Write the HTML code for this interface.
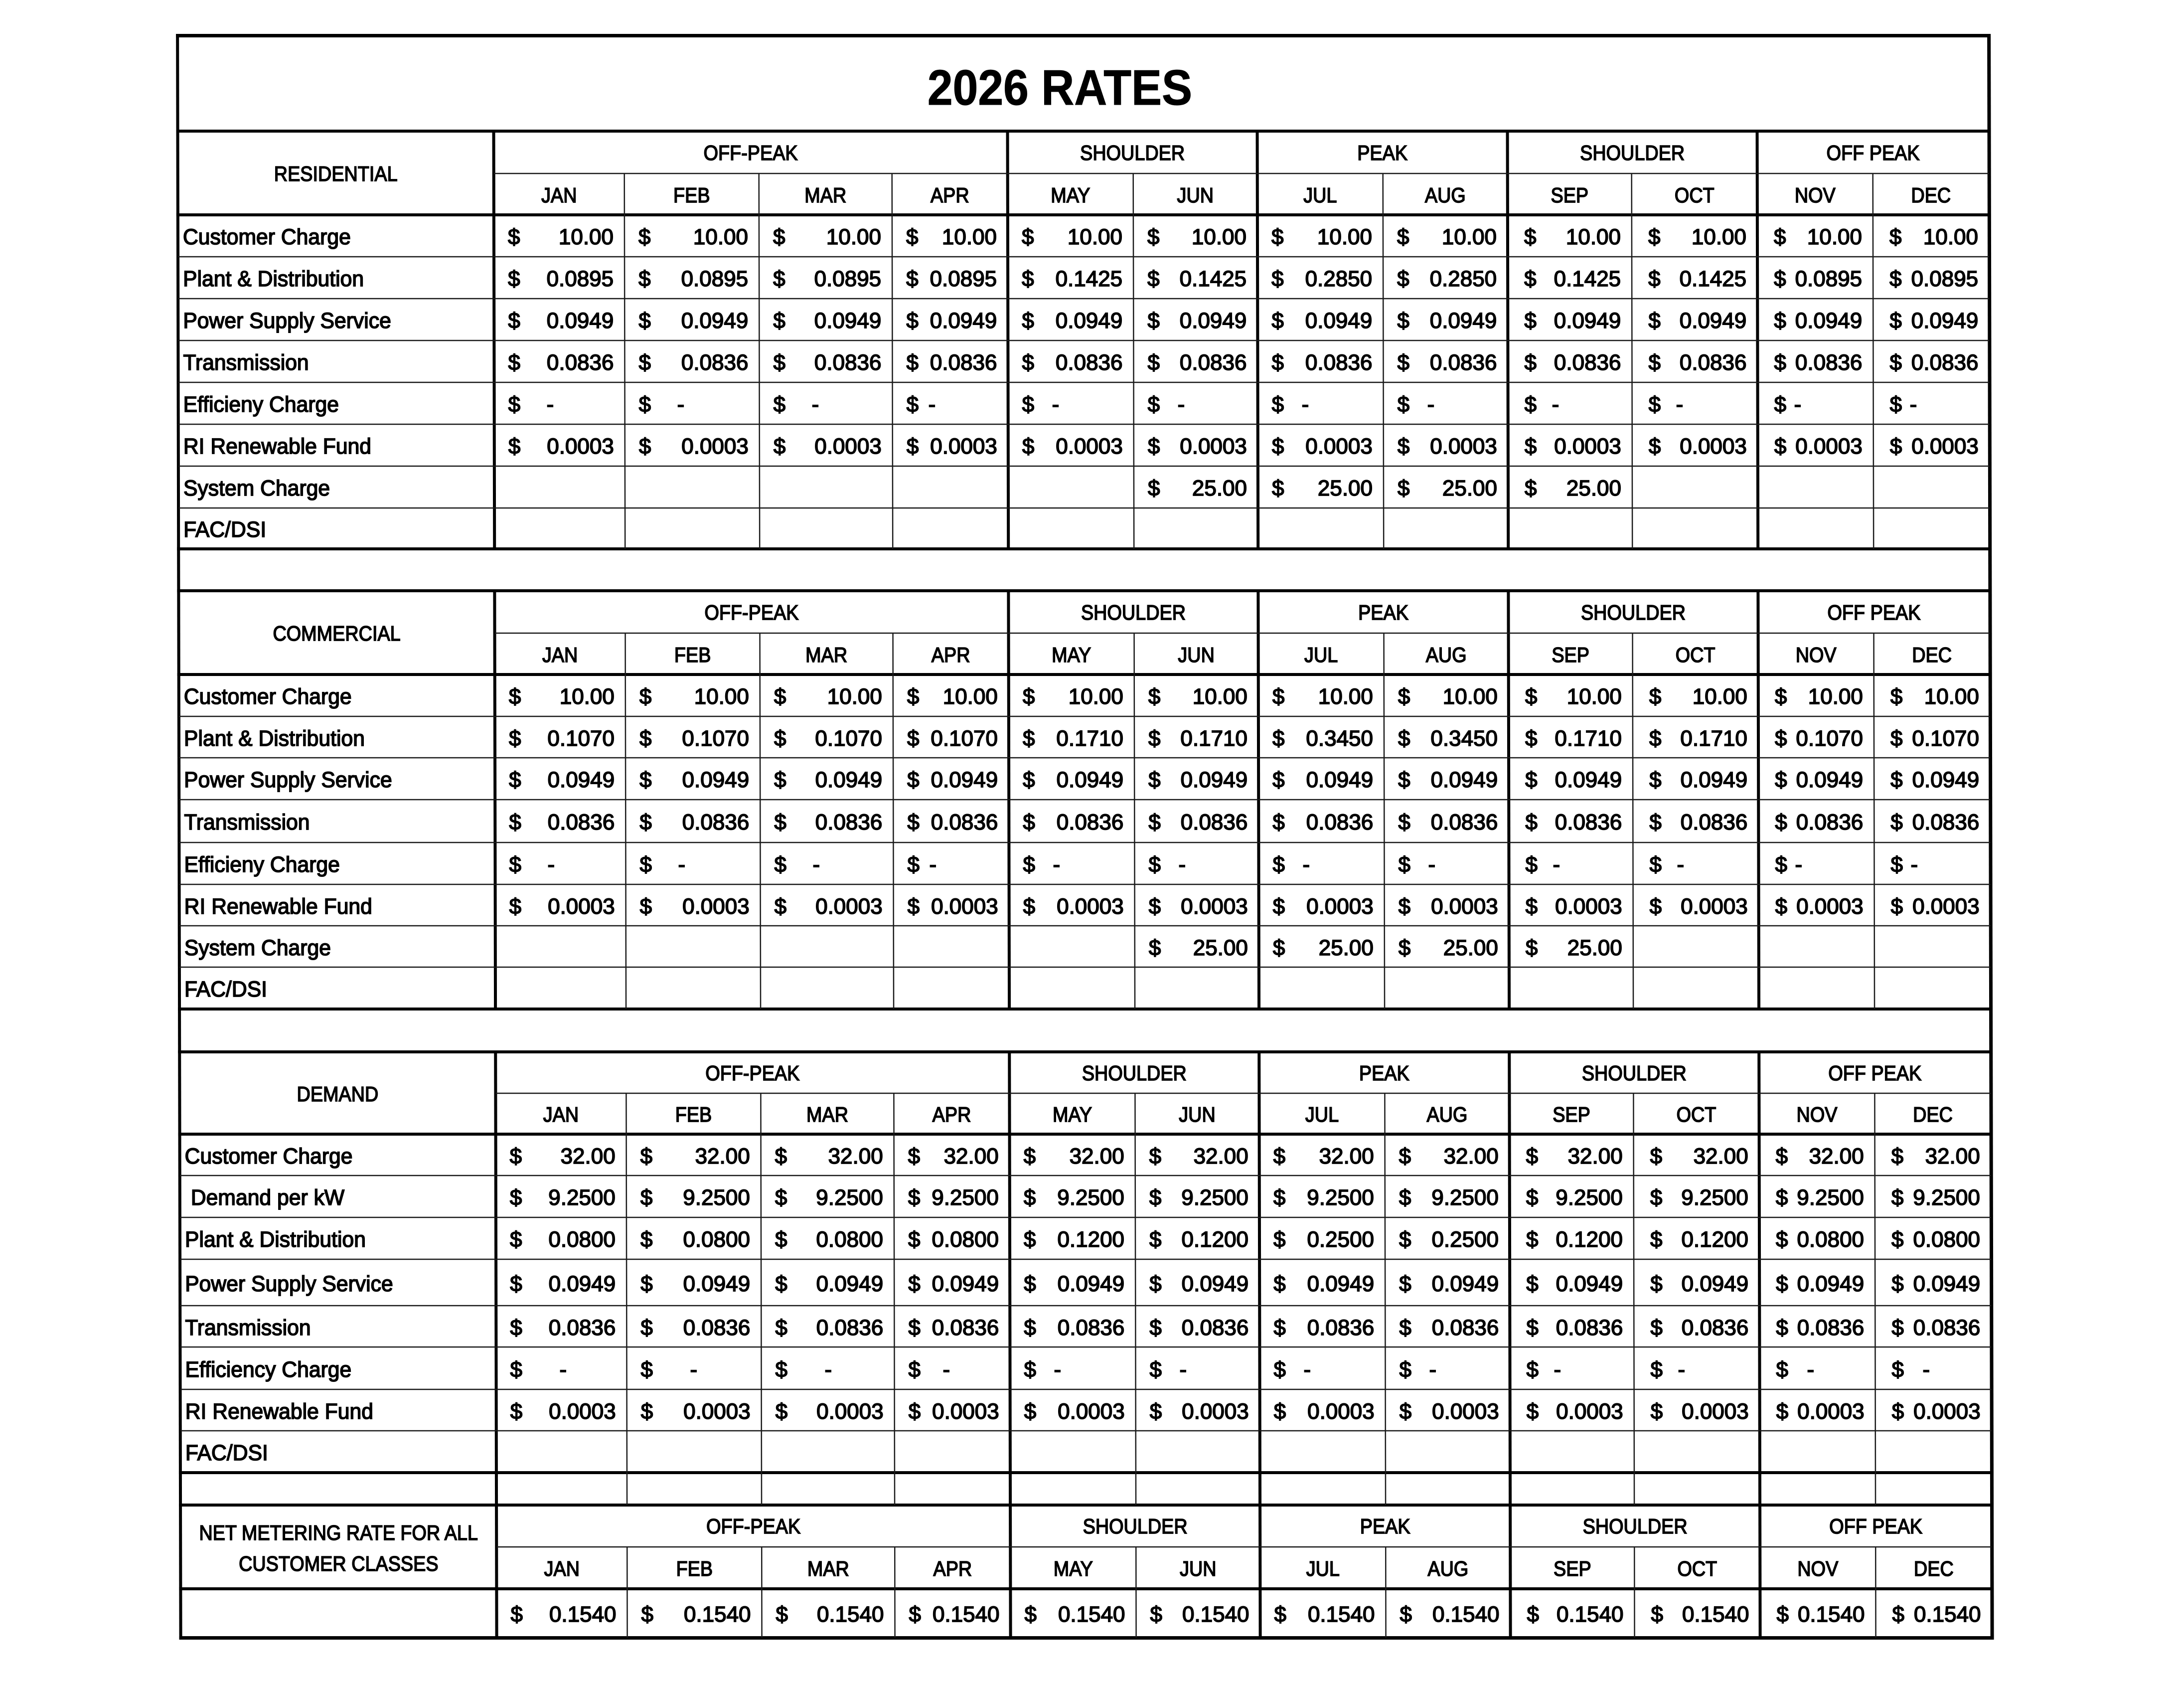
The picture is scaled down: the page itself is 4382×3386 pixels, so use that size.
<!DOCTYPE html>
<html><head><meta charset="utf-8">
<style>
html,body{margin:0;padding:0;background:#fff}
body{width:4382px;height:3386px;overflow:hidden;position:relative;font-family:"Liberation Sans",Arial,sans-serif;color:#000}
#w{position:absolute;left:0;top:0;width:4382px;height:3386px;transform:skewX(0.115deg);transform-origin:0 0;-webkit-text-stroke:1.7px #000}
svg{position:absolute;left:0;top:0}
.r{position:absolute;left:0;width:4382px;height:44px}
.v{position:absolute;top:0;height:44px;line-height:44px;font-size:44px;text-align:right;padding-right:22px;box-sizing:border-box;white-space:nowrap}
.v s,.v u{position:absolute;top:0;text-decoration:none}
.v s{left:28px}
.p8 s,.p9 s,.p10 s,.p11 s{left:33px}
.lb{position:absolute;top:0;left:366px;font-size:44px;line-height:44px;white-space:nowrap;transform:scaleX(.97);transform-origin:0 0}
.h{position:absolute;top:0;height:42px;font-size:42px;line-height:42px;text-align:center;white-space:nowrap;transform:scaleX(.9);transform-origin:50% 0}
.p0{left:990px;width:262px}.p1{left:1252px;width:270px}.p2{left:1522px;width:267px}.p3{left:1789px;width:232px}
.p4{left:2021px;width:252px}.p5{left:2273px;width:249px}.p6{left:2522px;width:252px}.p7{left:2774px;width:250px}
.p8{left:3024px;width:249px}.p9{left:3273px;width:252px}.p10{left:3525px;width:232px}.p11{left:3757px;width:233px}
.g1{left:990px;width:1031px}.g2{left:2021px;width:501px}.g3{left:2522px;width:502px}.g4{left:3024px;width:501px}.g5{left:3525px;width:465px}
.lc{left:356px;width:634px}
.da{left:105px}.db{left:72px}.dc{left:88px}.dd{left:73px}
.de{left:127px}.df{left:97px}.dg{left:88px}.dh{left:95px}
.title{position:absolute;left:1626px;width:1000px;top:126px;font-size:100px;line-height:100px;font-weight:bold;text-align:center;transform:scaleX(.913);transform-origin:50% 0;white-space:nowrap;-webkit-text-stroke:1px #000}
</style></head><body><div id="w">
<svg width="4382" height="3386" viewBox="0 0 4382 3386">
<g fill="#000">
<rect x="353" y="68" width="3640" height="7"/>
<rect x="353" y="260" width="3640" height="6"/>
<rect x="353" y="428" width="3640" height="6"/>
<rect x="353" y="1098" width="3640" height="6"/>
<rect x="353" y="1182" width="3640" height="6"/>
<rect x="353" y="1350" width="3640" height="6"/>
<rect x="353" y="2021" width="3640" height="6"/>
<rect x="353" y="2107" width="3640" height="6"/>
<rect x="353" y="2272" width="3640" height="6"/>
<rect x="353" y="2951" width="3640" height="6"/>
<rect x="353" y="3016" width="3640" height="6"/>
<rect x="353" y="3184" width="3640" height="6"/>
<rect x="353" y="3282" width="3640" height="7"/>
<rect x="353" y="68" width="6" height="3221"/>
<rect x="3987" y="68" width="7" height="3221"/>
<rect x="987" y="260" width="6" height="844"/><rect x="987" y="1182" width="6" height="845"/><rect x="987" y="2107" width="6" height="1182"/>
<rect x="2018" y="260" width="6" height="844"/><rect x="2018" y="1182" width="6" height="845"/><rect x="2018" y="2107" width="6" height="1182"/>
<rect x="2519" y="260" width="6" height="844"/><rect x="2519" y="1182" width="6" height="845"/><rect x="2519" y="2107" width="6" height="1182"/>
<rect x="3021" y="260" width="6" height="844"/><rect x="3021" y="1182" width="6" height="845"/><rect x="3021" y="2107" width="6" height="1182"/>
<rect x="3522" y="260" width="6" height="844"/><rect x="3522" y="1182" width="6" height="845"/><rect x="3522" y="2107" width="6" height="1182"/>
</g>
<path fill="none" stroke="#1a1a1a" stroke-width="2.5" d="
M990 348H3990M990 1270H3990M990 2193H3990M990 3103H3990
M356 515H3990M356 599H3990M356 683H3990M356 767H3990M356 851H3990M356 935H3990M356 1019H3990
M356 1437H3990M356 1520H3990M356 1604H3990M356 1690H3990M356 1774H3990M356 1857H3990M356 1940H3990
M356 2358H3990M356 2442H3990M356 2526H3990M356 2619H3990M356 2702H3990M356 2787H3990M356 2870H3990
M1252 348V1101M1522 348V1101M1789 348V1101M2273 348V1101M2774 348V1101M3273 348V1101M3757 348V1101
M1252 1270V2024M1522 1270V2024M1789 1270V2024M2273 1270V2024M2774 1270V2024M3273 1270V2024M3757 1270V2024
M1252 2193V3019M1522 2193V3019M1789 2193V3019M2273 2193V3019M2774 2193V3019M3273 2193V3019M3757 2193V3019
M1252 3103V3285M1522 3103V3285M1789 3103V3285M2273 3103V3285M2774 3103V3285M3273 3103V3285M3757 3103V3285"/>
</svg>

<div class="title">2026 RATES</div>

<!-- RESIDENTIAL -->
<div class="r" style="top:328px"><div class="h lc">RESIDENTIAL</div></div>
<div class="r" style="top:286px"><div class="h g1">OFF-PEAK</div><div class="h g2">SHOULDER</div><div class="h g3">PEAK</div><div class="h g4">SHOULDER</div><div class="h g5">OFF PEAK</div></div>
<div class="r" style="top:371px"><div class="h p0">JAN</div><div class="h p1">FEB</div><div class="h p2">MAR</div><div class="h p3">APR</div><div class="h p4">MAY</div><div class="h p5">JUN</div><div class="h p6">JUL</div><div class="h p7">AUG</div><div class="h p8">SEP</div><div class="h p9">OCT</div><div class="h p10">NOV</div><div class="h p11">DEC</div></div>
<div class="r" style="top:454px"><div class="lb">Customer Charge</div><div class="v p0"><s>$</s>10.00</div><div class="v p1"><s>$</s>10.00</div><div class="v p2"><s>$</s>10.00</div><div class="v p3"><s>$</s>10.00</div><div class="v p4"><s>$</s>10.00</div><div class="v p5"><s>$</s>10.00</div><div class="v p6"><s>$</s>10.00</div><div class="v p7"><s>$</s>10.00</div><div class="v p8"><s>$</s>10.00</div><div class="v p9"><s>$</s>10.00</div><div class="v p10"><s>$</s>10.00</div><div class="v p11"><s>$</s>10.00</div></div>
<div class="r" style="top:538px"><div class="lb">Plant &amp; Distribution</div><div class="v p0"><s>$</s>0.0895</div><div class="v p1"><s>$</s>0.0895</div><div class="v p2"><s>$</s>0.0895</div><div class="v p3"><s>$</s>0.0895</div><div class="v p4"><s>$</s>0.1425</div><div class="v p5"><s>$</s>0.1425</div><div class="v p6"><s>$</s>0.2850</div><div class="v p7"><s>$</s>0.2850</div><div class="v p8"><s>$</s>0.1425</div><div class="v p9"><s>$</s>0.1425</div><div class="v p10"><s>$</s>0.0895</div><div class="v p11"><s>$</s>0.0895</div></div>
<div class="r" style="top:622px"><div class="lb">Power Supply Service</div><div class="v p0"><s>$</s>0.0949</div><div class="v p1"><s>$</s>0.0949</div><div class="v p2"><s>$</s>0.0949</div><div class="v p3"><s>$</s>0.0949</div><div class="v p4"><s>$</s>0.0949</div><div class="v p5"><s>$</s>0.0949</div><div class="v p6"><s>$</s>0.0949</div><div class="v p7"><s>$</s>0.0949</div><div class="v p8"><s>$</s>0.0949</div><div class="v p9"><s>$</s>0.0949</div><div class="v p10"><s>$</s>0.0949</div><div class="v p11"><s>$</s>0.0949</div></div>
<div class="r" style="top:706px"><div class="lb">Transmission</div><div class="v p0"><s>$</s>0.0836</div><div class="v p1"><s>$</s>0.0836</div><div class="v p2"><s>$</s>0.0836</div><div class="v p3"><s>$</s>0.0836</div><div class="v p4"><s>$</s>0.0836</div><div class="v p5"><s>$</s>0.0836</div><div class="v p6"><s>$</s>0.0836</div><div class="v p7"><s>$</s>0.0836</div><div class="v p8"><s>$</s>0.0836</div><div class="v p9"><s>$</s>0.0836</div><div class="v p10"><s>$</s>0.0836</div><div class="v p11"><s>$</s>0.0836</div></div>
<div class="r" style="top:790px"><div class="lb">Efficieny Charge</div><div class="v p0"><s>$</s><u class="da">-</u></div><div class="v p1"><s>$</s><u class="da">-</u></div><div class="v p2"><s>$</s><u class="da">-</u></div><div class="v p3"><s>$</s><u class="db">-</u></div><div class="v p4"><s>$</s><u class="dc">-</u></div><div class="v p5"><s>$</s><u class="dc">-</u></div><div class="v p6"><s>$</s><u class="dc">-</u></div><div class="v p7"><s>$</s><u class="dc">-</u></div><div class="v p8"><s>$</s><u class="dc">-</u></div><div class="v p9"><s>$</s><u class="dc">-</u></div><div class="v p10"><s>$</s><u class="dd">-</u></div><div class="v p11"><s>$</s><u class="dd">-</u></div></div>
<div class="r" style="top:874px"><div class="lb">RI Renewable Fund</div><div class="v p0"><s>$</s>0.0003</div><div class="v p1"><s>$</s>0.0003</div><div class="v p2"><s>$</s>0.0003</div><div class="v p3"><s>$</s>0.0003</div><div class="v p4"><s>$</s>0.0003</div><div class="v p5"><s>$</s>0.0003</div><div class="v p6"><s>$</s>0.0003</div><div class="v p7"><s>$</s>0.0003</div><div class="v p8"><s>$</s>0.0003</div><div class="v p9"><s>$</s>0.0003</div><div class="v p10"><s>$</s>0.0003</div><div class="v p11"><s>$</s>0.0003</div></div>
<div class="r" style="top:958px"><div class="lb">System Charge</div><div class="v p5"><s>$</s>25.00</div><div class="v p6"><s>$</s>25.00</div><div class="v p7"><s>$</s>25.00</div><div class="v p8"><s>$</s>25.00</div></div>
<div class="r" style="top:1041px"><div class="lb">FAC/DSI</div></div>

<!-- COMMERCIAL -->
<div class="r" style="top:1250px"><div class="h lc">COMMERCIAL</div></div>
<div class="r" style="top:1208px"><div class="h g1">OFF-PEAK</div><div class="h g2">SHOULDER</div><div class="h g3">PEAK</div><div class="h g4">SHOULDER</div><div class="h g5">OFF PEAK</div></div>
<div class="r" style="top:1293px"><div class="h p0">JAN</div><div class="h p1">FEB</div><div class="h p2">MAR</div><div class="h p3">APR</div><div class="h p4">MAY</div><div class="h p5">JUN</div><div class="h p6">JUL</div><div class="h p7">AUG</div><div class="h p8">SEP</div><div class="h p9">OCT</div><div class="h p10">NOV</div><div class="h p11">DEC</div></div>
<div class="r" style="top:1376px"><div class="lb">Customer Charge</div><div class="v p0"><s>$</s>10.00</div><div class="v p1"><s>$</s>10.00</div><div class="v p2"><s>$</s>10.00</div><div class="v p3"><s>$</s>10.00</div><div class="v p4"><s>$</s>10.00</div><div class="v p5"><s>$</s>10.00</div><div class="v p6"><s>$</s>10.00</div><div class="v p7"><s>$</s>10.00</div><div class="v p8"><s>$</s>10.00</div><div class="v p9"><s>$</s>10.00</div><div class="v p10"><s>$</s>10.00</div><div class="v p11"><s>$</s>10.00</div></div>
<div class="r" style="top:1460px"><div class="lb">Plant &amp; Distribution</div><div class="v p0"><s>$</s>0.1070</div><div class="v p1"><s>$</s>0.1070</div><div class="v p2"><s>$</s>0.1070</div><div class="v p3"><s>$</s>0.1070</div><div class="v p4"><s>$</s>0.1710</div><div class="v p5"><s>$</s>0.1710</div><div class="v p6"><s>$</s>0.3450</div><div class="v p7"><s>$</s>0.3450</div><div class="v p8"><s>$</s>0.1710</div><div class="v p9"><s>$</s>0.1710</div><div class="v p10"><s>$</s>0.1070</div><div class="v p11"><s>$</s>0.1070</div></div>
<div class="r" style="top:1543px"><div class="lb">Power Supply Service</div><div class="v p0"><s>$</s>0.0949</div><div class="v p1"><s>$</s>0.0949</div><div class="v p2"><s>$</s>0.0949</div><div class="v p3"><s>$</s>0.0949</div><div class="v p4"><s>$</s>0.0949</div><div class="v p5"><s>$</s>0.0949</div><div class="v p6"><s>$</s>0.0949</div><div class="v p7"><s>$</s>0.0949</div><div class="v p8"><s>$</s>0.0949</div><div class="v p9"><s>$</s>0.0949</div><div class="v p10"><s>$</s>0.0949</div><div class="v p11"><s>$</s>0.0949</div></div>
<div class="r" style="top:1628px"><div class="lb">Transmission</div><div class="v p0"><s>$</s>0.0836</div><div class="v p1"><s>$</s>0.0836</div><div class="v p2"><s>$</s>0.0836</div><div class="v p3"><s>$</s>0.0836</div><div class="v p4"><s>$</s>0.0836</div><div class="v p5"><s>$</s>0.0836</div><div class="v p6"><s>$</s>0.0836</div><div class="v p7"><s>$</s>0.0836</div><div class="v p8"><s>$</s>0.0836</div><div class="v p9"><s>$</s>0.0836</div><div class="v p10"><s>$</s>0.0836</div><div class="v p11"><s>$</s>0.0836</div></div>
<div class="r" style="top:1713px"><div class="lb">Efficieny Charge</div><div class="v p0"><s>$</s><u class="da">-</u></div><div class="v p1"><s>$</s><u class="da">-</u></div><div class="v p2"><s>$</s><u class="da">-</u></div><div class="v p3"><s>$</s><u class="db">-</u></div><div class="v p4"><s>$</s><u class="dc">-</u></div><div class="v p5"><s>$</s><u class="dc">-</u></div><div class="v p6"><s>$</s><u class="dc">-</u></div><div class="v p7"><s>$</s><u class="dc">-</u></div><div class="v p8"><s>$</s><u class="dc">-</u></div><div class="v p9"><s>$</s><u class="dc">-</u></div><div class="v p10"><s>$</s><u class="dd">-</u></div><div class="v p11"><s>$</s><u class="dd">-</u></div></div>
<div class="r" style="top:1797px"><div class="lb">RI Renewable Fund</div><div class="v p0"><s>$</s>0.0003</div><div class="v p1"><s>$</s>0.0003</div><div class="v p2"><s>$</s>0.0003</div><div class="v p3"><s>$</s>0.0003</div><div class="v p4"><s>$</s>0.0003</div><div class="v p5"><s>$</s>0.0003</div><div class="v p6"><s>$</s>0.0003</div><div class="v p7"><s>$</s>0.0003</div><div class="v p8"><s>$</s>0.0003</div><div class="v p9"><s>$</s>0.0003</div><div class="v p10"><s>$</s>0.0003</div><div class="v p11"><s>$</s>0.0003</div></div>
<div class="r" style="top:1880px"><div class="lb">System Charge</div><div class="v p5"><s>$</s>25.00</div><div class="v p6"><s>$</s>25.00</div><div class="v p7"><s>$</s>25.00</div><div class="v p8"><s>$</s>25.00</div></div>
<div class="r" style="top:1963px"><div class="lb">FAC/DSI</div></div>

<!-- DEMAND -->
<div class="r" style="top:2174px"><div class="h lc">DEMAND</div></div>
<div class="r" style="top:2132px"><div class="h g1">OFF-PEAK</div><div class="h g2">SHOULDER</div><div class="h g3">PEAK</div><div class="h g4">SHOULDER</div><div class="h g5">OFF PEAK</div></div>
<div class="r" style="top:2215px"><div class="h p0">JAN</div><div class="h p1">FEB</div><div class="h p2">MAR</div><div class="h p3">APR</div><div class="h p4">MAY</div><div class="h p5">JUN</div><div class="h p6">JUL</div><div class="h p7">AUG</div><div class="h p8">SEP</div><div class="h p9">OCT</div><div class="h p10">NOV</div><div class="h p11">DEC</div></div>
<div class="r" style="top:2298px"><div class="lb">Customer Charge</div><div class="v p0"><s>$</s>32.00</div><div class="v p1"><s>$</s>32.00</div><div class="v p2"><s>$</s>32.00</div><div class="v p3"><s>$</s>32.00</div><div class="v p4"><s>$</s>32.00</div><div class="v p5"><s>$</s>32.00</div><div class="v p6"><s>$</s>32.00</div><div class="v p7"><s>$</s>32.00</div><div class="v p8"><s>$</s>32.00</div><div class="v p9"><s>$</s>32.00</div><div class="v p10"><s>$</s>32.00</div><div class="v p11"><s>$</s>32.00</div></div>
<div class="r" style="top:2381px"><div class="lb" style="left:378px">Demand per kW</div><div class="v p0"><s>$</s>9.2500</div><div class="v p1"><s>$</s>9.2500</div><div class="v p2"><s>$</s>9.2500</div><div class="v p3"><s>$</s>9.2500</div><div class="v p4"><s>$</s>9.2500</div><div class="v p5"><s>$</s>9.2500</div><div class="v p6"><s>$</s>9.2500</div><div class="v p7"><s>$</s>9.2500</div><div class="v p8"><s>$</s>9.2500</div><div class="v p9"><s>$</s>9.2500</div><div class="v p10"><s>$</s>9.2500</div><div class="v p11"><s>$</s>9.2500</div></div>
<div class="r" style="top:2465px"><div class="lb">Plant &amp; Distribution</div><div class="v p0"><s>$</s>0.0800</div><div class="v p1"><s>$</s>0.0800</div><div class="v p2"><s>$</s>0.0800</div><div class="v p3"><s>$</s>0.0800</div><div class="v p4"><s>$</s>0.1200</div><div class="v p5"><s>$</s>0.1200</div><div class="v p6"><s>$</s>0.2500</div><div class="v p7"><s>$</s>0.2500</div><div class="v p8"><s>$</s>0.1200</div><div class="v p9"><s>$</s>0.1200</div><div class="v p10"><s>$</s>0.0800</div><div class="v p11"><s>$</s>0.0800</div></div>
<div class="r" style="top:2554px"><div class="lb">Power Supply Service</div><div class="v p0"><s>$</s>0.0949</div><div class="v p1"><s>$</s>0.0949</div><div class="v p2"><s>$</s>0.0949</div><div class="v p3"><s>$</s>0.0949</div><div class="v p4"><s>$</s>0.0949</div><div class="v p5"><s>$</s>0.0949</div><div class="v p6"><s>$</s>0.0949</div><div class="v p7"><s>$</s>0.0949</div><div class="v p8"><s>$</s>0.0949</div><div class="v p9"><s>$</s>0.0949</div><div class="v p10"><s>$</s>0.0949</div><div class="v p11"><s>$</s>0.0949</div></div>
<div class="r" style="top:2642px"><div class="lb">Transmission</div><div class="v p0"><s>$</s>0.0836</div><div class="v p1"><s>$</s>0.0836</div><div class="v p2"><s>$</s>0.0836</div><div class="v p3"><s>$</s>0.0836</div><div class="v p4"><s>$</s>0.0836</div><div class="v p5"><s>$</s>0.0836</div><div class="v p6"><s>$</s>0.0836</div><div class="v p7"><s>$</s>0.0836</div><div class="v p8"><s>$</s>0.0836</div><div class="v p9"><s>$</s>0.0836</div><div class="v p10"><s>$</s>0.0836</div><div class="v p11"><s>$</s>0.0836</div></div>
<div class="r" style="top:2726px"><div class="lb">Efficiency Charge</div><div class="v p0"><s>$</s><u class="de">-</u></div><div class="v p1"><s>$</s><u class="de">-</u></div><div class="v p2"><s>$</s><u class="de">-</u></div><div class="v p3"><s>$</s><u class="df">-</u></div><div class="v p4"><s>$</s><u class="dg">-</u></div><div class="v p5"><s>$</s><u class="dg">-</u></div><div class="v p6"><s>$</s><u class="dg">-</u></div><div class="v p7"><s>$</s><u class="dg">-</u></div><div class="v p8"><s>$</s><u class="dg">-</u></div><div class="v p9"><s>$</s><u class="dg">-</u></div><div class="v p10"><s>$</s><u class="dh">-</u></div><div class="v p11"><s>$</s><u class="dh">-</u></div></div>
<div class="r" style="top:2810px"><div class="lb">RI Renewable Fund</div><div class="v p0"><s>$</s>0.0003</div><div class="v p1"><s>$</s>0.0003</div><div class="v p2"><s>$</s>0.0003</div><div class="v p3"><s>$</s>0.0003</div><div class="v p4"><s>$</s>0.0003</div><div class="v p5"><s>$</s>0.0003</div><div class="v p6"><s>$</s>0.0003</div><div class="v p7"><s>$</s>0.0003</div><div class="v p8"><s>$</s>0.0003</div><div class="v p9"><s>$</s>0.0003</div><div class="v p10"><s>$</s>0.0003</div><div class="v p11"><s>$</s>0.0003</div></div>
<div class="r" style="top:2893px"><div class="lb">FAC/DSI</div></div>

<!-- NET METERING -->
<div class="r" style="top:3054px"><div class="h lc">NET METERING RATE FOR ALL</div></div>
<div class="r" style="top:3116px"><div class="h lc">CUSTOMER CLASSES</div></div>
<div class="r" style="top:3041px"><div class="h g1">OFF-PEAK</div><div class="h g2">SHOULDER</div><div class="h g3">PEAK</div><div class="h g4">SHOULDER</div><div class="h g5">OFF PEAK</div></div>
<div class="r" style="top:3126px"><div class="h p0">JAN</div><div class="h p1">FEB</div><div class="h p2">MAR</div><div class="h p3">APR</div><div class="h p4">MAY</div><div class="h p5">JUN</div><div class="h p6">JUL</div><div class="h p7">AUG</div><div class="h p8">SEP</div><div class="h p9">OCT</div><div class="h p10">NOV</div><div class="h p11">DEC</div></div>
<div class="r" style="top:3217px"><div class="v p0"><s>$</s>0.1540</div><div class="v p1"><s>$</s>0.1540</div><div class="v p2"><s>$</s>0.1540</div><div class="v p3"><s>$</s>0.1540</div><div class="v p4"><s>$</s>0.1540</div><div class="v p5"><s>$</s>0.1540</div><div class="v p6"><s>$</s>0.1540</div><div class="v p7"><s>$</s>0.1540</div><div class="v p8"><s>$</s>0.1540</div><div class="v p9"><s>$</s>0.1540</div><div class="v p10"><s>$</s>0.1540</div><div class="v p11"><s>$</s>0.1540</div></div>
</div></body></html>
